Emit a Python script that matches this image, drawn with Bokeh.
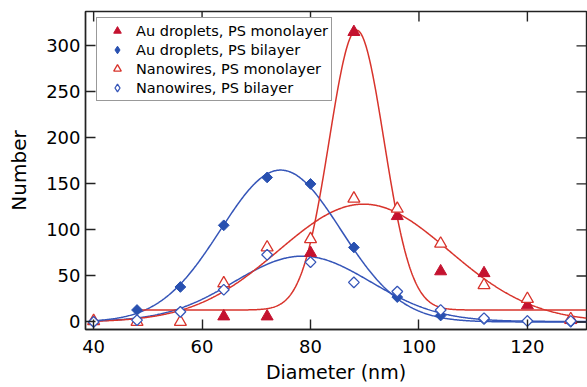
import numpy as np
from bokeh.plotting import figure
from bokeh.models import Range1d, FixedTicker, Legend, LegendItem
from bokeh.embed import file_html
from bokeh.resources import INLINE

# ---- data ----
diam = [40, 48, 56, 64, 72, 80, 88, 96, 104, 112, 120, 128]
au_mono_x = [64, 72, 80, 88, 96, 104, 112, 120, 128]
au_mono = [6, 6, 75, 315, 115, 55, 53, 18, 2]
au_bi = [0, 13, 38, 105, 157, 150, 81, 27, 7, 3, 1, 0]
nw_mono = [1, 0, 0, 42, 81, 90, 134, 123, 85, 40, 25, 3]
nw_bi = [0, 2, 11, 35, 73, 65, 43, 33, 13, 4, 1, 1]

# Gaussian fit parameters: baseline, amplitude, centre, width, start
fit_au_mono = [13, 304, 88.5, 5.05, 48]
fit_au_bi = [0, 165, 74.5, 11.1, 40]
fit_nw_mono = [0, 128, 89.8, 15.7, 40]
fit_nw_bi = [0.5, 71, 78.5, 12.6, 40]

x_ticks = [40, 60, 80, 100, 120]
y_ticks = [0, 50, 100, 150, 200, 250, 300]

RED_FILL = "#C4122F"
RED_LINE = "#D8342C"
BLUE_FILL = "#2850B0"
BLUE_LINE = "#3555B8"
AXIS = "#222222"

FONT = "DejaVu Sans"

XMIN, XMAX = 38.5, 130.9
YMIN, YMAX = -8.2, 337.3

p = figure(width=587, height=387, output_backend="svg", toolbar_location=None,
           x_range=Range1d(XMIN, XMAX), y_range=Range1d(YMIN, YMAX),
           min_border_left=85, min_border_right=1, min_border_top=11, min_border_bottom=58)
p.xgrid.visible = False
p.ygrid.visible = False
p.outline_line_color = AXIS
p.outline_line_width = 1.4
p.background_fill_color = "white"
p.border_fill_color = "white"


def fit_curve(par):
    base, amp, cen, sig, start = par
    xs = np.linspace(start, XMAX, 600)
    return xs, base + amp * np.exp(-((xs - cen) ** 2) / (2 * sig ** 2))


for par, col in [(fit_nw_bi, BLUE_LINE), (fit_nw_mono, RED_LINE),
                 (fit_au_bi, BLUE_LINE), (fit_au_mono, RED_LINE)]:
    xs, ys = fit_curve(par)
    p.line(xs, ys, line_color=col, line_width=1.5)

r1 = p.scatter(au_mono_x, au_mono, marker="triangle", size=12,
               fill_color=RED_FILL, line_color=RED_FILL)
p.scatter(diam, au_bi, marker="square", angle=np.pi / 4, size=7.6,
          fill_color=BLUE_FILL, line_color=BLUE_FILL)
r3 = p.scatter(diam, nw_mono, marker="triangle", size=12,
               fill_color="white", line_color=RED_LINE, line_width=1.3)
p.scatter(diam, nw_bi, marker="square", angle=np.pi / 4, size=7.6,
          fill_color="white", line_color=BLUE_LINE, line_width=1.3)

# legend-only diamond glyphs (NaN data, so nothing is drawn in the plot)
nan = np.array([np.nan])
r2 = p.scatter(nan, nan, marker="diamond", fill_color=BLUE_FILL, line_color=BLUE_FILL)
r4 = p.scatter(nan, nan, marker="diamond", fill_color="white", line_color=BLUE_LINE,
               line_width=1.3)

# mirror ticks on the top and right frame edges (clipped to the frame -> inward ticks)
p.scatter(x_ticks, [YMAX] * len(x_ticks), marker="dash", angle=np.pi / 2, size=20,
          line_color=AXIS, line_width=1.4)
p.scatter([XMAX] * len(y_ticks), y_ticks, marker="dash", size=20,
          line_color=AXIS, line_width=1.4)

# axes
for ax in p.xaxis + p.yaxis:
    ax.major_tick_in = 10
    ax.major_tick_out = 0
    ax.minor_tick_in = 0
    ax.minor_tick_out = 0
    ax.axis_line_width = 1.4
    ax.axis_line_color = AXIS
    ax.major_tick_line_width = 1.4
    ax.major_tick_line_color = AXIS
    ax.major_label_text_font = FONT
    ax.major_label_text_font_size = "18px"
    ax.major_label_text_color = "black"
    ax.axis_label_text_font = FONT
    ax.axis_label_text_font_style = "normal"
    ax.axis_label_text_color = "black"

p.xaxis.ticker = FixedTicker(ticks=x_ticks)
p.yaxis.ticker = FixedTicker(ticks=y_ticks)
p.xaxis.axis_label = "Diameter (nm)"
p.yaxis.axis_label = "Number"
p.xaxis.axis_label_text_font_size = "19px"
p.yaxis.axis_label_text_font_size = "20px"
p.xaxis.major_label_standoff = 10
p.xaxis.axis_label_standoff = 5
p.yaxis.major_label_standoff = 5
p.yaxis.axis_label_standoff = 12

legend = Legend(items=[
    LegendItem(label="Au droplets, PS monolayer", renderers=[r1]),
    LegendItem(label="Au droplets, PS bilayer", renderers=[r2]),
    LegendItem(label="Nanowires, PS monolayer", renderers=[r3]),
    LegendItem(label="Nanowires, PS bilayer", renderers=[r4]),
], location=(11, 228))
legend.label_text_font = FONT
legend.label_text_font_size = "14.5px"
legend.label_text_color = "black"
legend.label_height = 19
legend.glyph_height = 19
legend.glyph_width = 34
legend.label_standoff = 2
legend.spacing = 0
legend.padding = 3
legend.margin = 0
legend.border_line_color = "#333333"
legend.border_line_width = 1
legend.background_fill_color = "white"
legend.background_fill_alpha = 1
p.add_layout(legend, "center")

open("out.html", "w").write(file_html(p, INLINE))
